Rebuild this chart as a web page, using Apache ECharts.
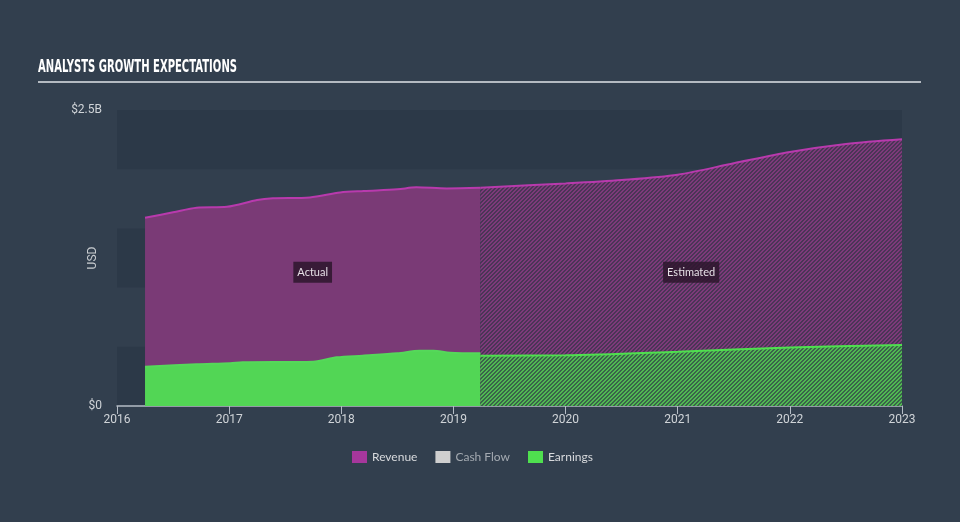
<!DOCTYPE html>
<html>
<head>
<meta charset="utf-8">
<script src="https://cdn.jsdelivr.net/npm/echarts@6/dist/echarts.min.js"></script>
<style>
html,body{margin:0;padding:0;background:#323f4e;}
#chart{width:960px;height:522px;}
</style>
</head>
<body>
<div id="chart"></div>
<script>
// ---- data (values in billions USD, x in decimal years) ----
const revenueActualX = [2016.25, 2016.5, 2016.71, 2016.98, 2017.25, 2017.39, 2017.72, 2017.99, 2018.2, 2018.5, 2018.67, 2018.94, 2019.24];
const revenueActual  = [1.59, 1.636, 1.675, 1.683, 1.74, 1.754, 1.762, 1.804, 1.816, 1.83, 1.847, 1.838, 1.843];
const revenueEstX    = [2019.24, 2020, 2020.5, 2021, 2021.5, 2022, 2022.5, 2023];
const revenueEst     = [1.844, 1.88, 1.909, 1.954, 2.05, 2.145, 2.213, 2.253];
const earningsActualX = [2016.25, 2016.71, 2017.01, 2017.12, 2017.75, 2017.96, 2018.19, 2018.5, 2018.7, 2018.82, 2018.97, 2019.24];
const earningsActual  = [0.332, 0.352, 0.361, 0.369, 0.374, 0.411, 0.425, 0.445, 0.467, 0.467, 0.45, 0.445];
const earningsEstX    = [2019.24, 2020, 2021, 2022, 2023];
const earningsEst     = [0.425, 0.428, 0.459, 0.495, 0.515];
const yTickLabels = {0: '$0', 2.5: '$2.5B'};
const legendNames = ['Revenue', 'Cash Flow', 'Earnings'];
const titleText = 'ANALYSTS GROWTH EXPECTATIONS';
const labelY = 1.13;

function pairs(xs, ys){ return xs.map((x,i)=>[x, ys[i]]); }

function hatch(stripe, gap){
  const c = document.createElement('canvas');
  c.width = 4; c.height = 4;
  const ctx = c.getContext('2d');
  for (let x=0;x<4;x++) for (let y=0;y<4;y++){
    ctx.fillStyle = (((x + y) % 4) < 2) ? stripe : gap;
    ctx.fillRect(x,y,1,1);
  }
  return {image: c, repeat: 'repeat'};
}

const titleFont = 'bold 18px "DejaVu Sans"';
const mctx = document.createElement('canvas').getContext('2d');
mctx.font = titleFont;
const titleScale = 199 / mctx.measureText(titleText).width;

const chart = echarts.init(document.getElementById('chart'), null, {renderer:'canvas'});
const midActual = (revenueActualX[0] + revenueActualX[revenueActualX.length-1]) / 2;
const midEst = (revenueEstX[0] + revenueEstX[revenueEstX.length-1]) / 2;

const boxLabel = (txt) => ({
  show: true, formatter: txt, color: '#e6e0e6', fontSize: 11, fontFamily: 'Lato',
  backgroundColor: 'rgba(45,22,45,0.85)', padding: [5,4,5,4], position: 'inside'
});

chart.setOption({
  animation: false,
  backgroundColor: '#323f4e',
  graphic: [
    {type:'text', x:38, y:67, scaleX: titleScale, scaleY: 1,
     style:{text: titleText, font: titleFont, fill:'#ffffff', verticalAlign:'middle', align:'left'}},
    {type:'line', shape:{x1:38, y1:82, x2:921, y2:82}, style:{stroke:'#b4bac1', lineWidth:2}}
  ],
  legend: {
    bottom: 54, left: 347, itemWidth: 15, itemHeight: 12, itemGap: 18,
    icon: 'rect',
    textStyle: {color:'#d8dadd', fontSize: 12, fontFamily: 'Lato'},
    data: [
      {name: legendNames[0], itemStyle:{color:'#a6379c'}},
      {name: legendNames[1], itemStyle:{color:'#cfcfcf'}, textStyle:{color:'#a4aab1'}},
      {name: legendNames[2], itemStyle:{color:'#4fe04f'}}
    ]
  },
  grid: {left:117, right:58, top:110, bottom:116},
  xAxis: {
    type:'value', min:2016, max:2023, interval:1,
    axisLine:{show:true, lineStyle:{color:'#b4bcc5', width:1.5}},
    axisTick:{show:true, length:8, lineStyle:{color:'#b4bcc5'}},
    axisLabel:{color:'#d0d4d8', fontSize:12, fontFamily:'Roboto', formatter: v => String(Math.round(v))},
    splitLine:{show:false}
  },
  yAxis: {
    type:'value', min:0, max:2.5, interval:0.5,
    name:'USD', nameLocation:'middle', nameGap:18, nameRotate:90, nameMoveOverlap:false,
    nameTextStyle:{color:'#c8ccd0', fontSize:12, fontFamily:'Roboto'},
    axisLine:{show:false}, axisTick:{show:false},
    axisLabel:{color:'#d0d4d8', fontSize:12, fontFamily:'Roboto', margin:15,
      formatter: v => (yTickLabels[v] !== undefined ? yTickLabels[v] : '')},
    splitLine:{show:false},
    splitArea:{show:true, areaStyle:{color:['#2c3948','rgba(0,0,0,0)']}}
  },
  series: [
    {name:legendNames[0], type:'line', data: pairs(revenueActualX, revenueActual), showSymbol:false, smooth:0.3,
     lineStyle:{color:'#b83aad', width:2}, itemStyle:{color:'#a6379c'},
     areaStyle:{color:'#7a3a76', opacity:1},
     markPoint:{symbol:'rect', symbolSize:1, itemStyle:{color:'rgba(0,0,0,0)'},
       data:[{coord:[midActual, labelY], label: boxLabel('Actual')}]}},
    {name:legendNames[0], type:'line', data: pairs(revenueEstX, revenueEst), showSymbol:false, smooth:0.3,
     lineStyle:{color:'#b83aad', width:2}, itemStyle:{color:'#a6379c'},
     areaStyle:{color: hatch('#7d3a7a', '#4a3556'), opacity:1},
     markPoint:{symbol:'rect', symbolSize:1, itemStyle:{color:'rgba(0,0,0,0)'},
       data:[{coord:[midEst, labelY], label: boxLabel('Estimated')}]}},
    {name:legendNames[1], type:'line', data: [], itemStyle:{color:'#cfcfcf'}},
    {name:legendNames[2], type:'line', data: pairs(earningsActualX, earningsActual), showSymbol:false, smooth:0.3,
     lineStyle:{color:'#55d85a', width:2}, itemStyle:{color:'#4fe04f'},
     areaStyle:{color:'#52d655', opacity:1}},
    {name:legendNames[2], type:'line', data: pairs(earningsEstX, earningsEst), showSymbol:false, smooth:0.3,
     lineStyle:{color:'#4fe04f', width:2}, itemStyle:{color:'#4fe04f'},
     areaStyle:{color: hatch('#50b852', '#3a634a'), opacity:1}}
  ]
});
</script>
</body>
</html>
